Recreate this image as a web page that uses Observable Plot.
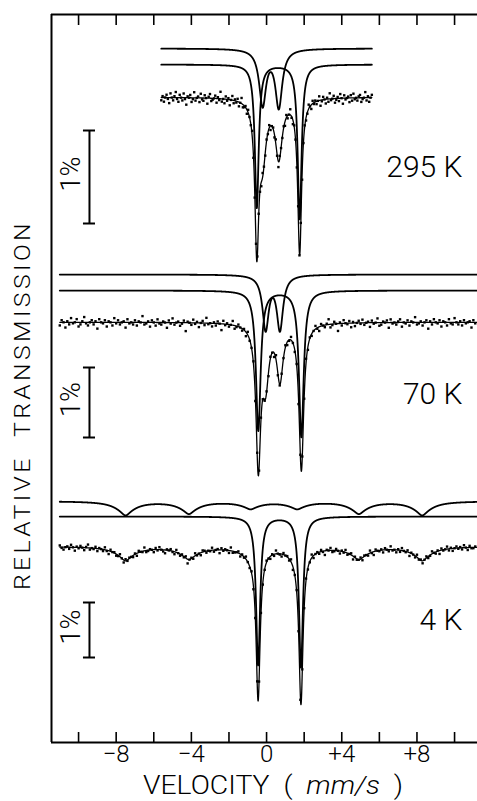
<!DOCTYPE html>
<html><head><meta charset="utf-8">
<script src="https://cdn.jsdelivr.net/npm/d3@7"></script>
<script src="https://cdn.jsdelivr.net/npm/@observablehq/plot@0.6"></script>
<style>
html,body{margin:0;padding:0;background:#fff;overflow:hidden;}
#chart{position:relative;width:477px;height:801px;}
</style></head><body><div id="chart"></div>
<script>
// ---------- data ----------
const temperatures = ["295 K", "70 K", "4 K"];
const velocityTicks = [-10, -8, -6, -4, -2, 0, 2, 4, 6, 8, 10];
const velocityLabels = [-8, -4, 0, 4, 8];

// absorption lines: [centre velocity (mm/s), depth (%), half width (mm/s)]
const lines295A = [[-0.21, 0.60, 0.22], [0.65, 0.62, 0.22]];
const lines295B = [[-0.52, 1.54, 0.125], [1.76, 1.66, 0.125]];
const lines70A = [[-0.05, 0.77, 0.20], [0.71, 0.77, 0.20]];
const lines70B = [[-0.44, 2.00, 0.15], [1.85, 2.09, 0.15]];
// magnetic sextet at 4 K: each line has a sharp core and broad wings
const lines4S = [[-7.50, 0.08, 0.25], [-7.50, 0.17, 0.70],
                 [-4.13, 0.07, 0.25], [-4.13, 0.15, 0.70],
                 [-0.85, 0.04, 0.25], [-0.85, 0.09, 0.70],
                 [1.63, 0.04, 0.25], [1.63, 0.09, 0.70],
                 [4.91, 0.07, 0.25], [4.91, 0.15, 0.70],
                 [8.28, 0.08, 0.25], [8.28, 0.17, 0.70]];
const lines4D = [[-0.45, 2.70, 0.13], [1.83, 2.74, 0.13]];

// measured channels: first velocity, channel step (mm/s)
const channels295 = [-5.6, 0.07];
const channels70 = [-11.0, 0.1];
const channels4 = [-11.0, 0.1];

// scatter of the measured points about the fit (units of 0.015 %)
const noiseUnit = 0.015;
const noise295 = [2,-1,3,0,-2,1,4,-3,0,2,-1,-4,1,3,-2,0,2,-3,1,5,-1,0,-2,3,1,-4,2,0,-1,3,-3,1,2,-2,0,4,-1,-3,2,1,
0,-2,3,-1,1,-5,2,0,3,-2,1,-1,4,0,-3,2,-1,1,-2,3,0,-4,2,1,-1,3,-2,0,1,-3,2,4,-1,0,-2,1,3,-3,0,2,
-1,1,-2,3,0,-1,2,-3,1,4,-2,0,1,-1,3,-2,2,0,-4,1,3,-1,0,2,-3,1,-2,4,0,-1,2,1,-3,0,3,-2,1,-1,2,0,
-3,4,1,-2,0,3,-1,2,-4,1,0,-2,3,1,-1,2,-3,0,4,-2,1,0,-1,3,-2,2,-3,1,0,2,-1,-2,3,1,0,-4,2,-1,3,0,-2];
const noise70 = [3,-2,0,5,-1,2,-4,1,0,-3,4,2,-1,-5,1,3,0,-2,2,-1,6,-3,0,1,-2,4,-1,0,3,-4,1,-2,2,0,-1,5,-3,1,0,2,
-2,3,-1,0,-6,2,1,-1,4,-2,0,3,-3,1,2,-1,0,5,-2,1,-4,2,0,-1,3,1,-2,8,-1,0,2,-3,1,-1,4,0,-2,2,-5,1,
0,3,-1,2,-2,0,6,-3,1,-1,2,0,-4,3,1,-2,0,2,-1,4,-3,1,0,-2,5,-1,2,-3,0,1,-1,3,-2,0,4,-4,2,1,-1,0,
-2,3,1,-3,0,2,-1,5,-2,0,1,-4,3,-1,2,0,-3,1,4,-2,0,2,-1,-5,3,1,-2,0,7,-1,2,-3,0,1,-2,4,-1,3,0,-2,
1,-3,2,0,-1,4,-2,1,0,-4,3,2,-1,0,-2,5,-3,1,0,2,-1,-3,4,0,1,-2,3,-1,0,-5,2,1,-1,3,0,-2,6,-1,2,-3,
0,1,-2,4,-1,0,3,-3,1,2,-4,0,2,-1,3,-2,1,0,-1,5,-2,1];
const noise4 = [-2,1,3,0,-1,2,-3,0,4,-1,1,-2,0,3,-1,-4,2,0,1,-2,3,-1,0,2,-3,1,4,-2,0,-1,2,1,-3,0,3,-2,1,-1,0,2,
-1,3,-2,0,1,-4,2,1,-1,0,3,-2,1,-3,0,2,4,-1,0,-2,1,3,-3,0,2,-1,1,-2,5,0,-1,2,-3,1,0,3,-2,-1,2,0,
1,-3,2,0,-1,4,-2,1,-1,0,3,-4,2,1,0,-2,3,-1,1,-3,0,2,-2,4,1,-1,0,-3,2,1,-2,0,3,-1,2,-4,0,1,3,-2,
0,-1,2,-3,4,0,-2,1,3,-1,0,-2,2,1,-4,3,0,-1,2,-2,1,5,-1,0,-3,2,1,-2,0,3,-1,1,-3,2,0,-2,4,-1,1,0,
-2,3,-1,0,2,-3,1,4,-2,0,1,-1,3,-2,0,2,-4,1,0,3,-1,2,-3,0,1,-2,4,-1,0,2,-3,1,-1,3,0,-2,2,1,-3,0,
2,-1,4,-2,1,0,-3,2,-1,3,0,-2,1,-1,2,-3,0,3,-2,1,1,-1];

// ---------- layout (pixels / styling) ----------
const FONT = "Roboto, 'DejaVu Sans', sans-serif";
const xDomain = [-11.44, 11.22];
const frameY = [14, 742];
const barV = -9.42, barHalf = 0.32, pctTextV = -10.38;
const panels = [
  {label: temperatures[0], comps: [lines295A, lines295B], channels: channels295, noise: noise295,
   range: [-5.6, 5.6], dataBase: 96.7, compBase: [48, 64], pxPerPct: 93, barTop: 130, labelY: 167},
  {label: temperatures[1], comps: [lines70A, lines70B], channels: channels70, noise: noise70,
   range: [-11.0, 11.22], dataBase: 321.7, compBase: [274, 290], pxPerPct: 70, barTop: 367, labelY: 394},
  {label: temperatures[2], comps: [lines4S, lines4D], channels: channels4, noise: noise4,
   range: [-11.0, 11.22], dataBase: 546, compBase: [500.7, 516], pxPerPct: 55, barTop: 602, labelY: 620}
];

function absorption(lines, v) {
  let s = 0;
  for (const [c, d, w] of lines) s += d / (1 + ((v - c) / w) ** 2);
  return s;
}

const curves = [], points = [], bars = [], caps = [];
panels.forEach((p, i) => {
  const all = p.comps.flat();
  const grid = d3.range(p.range[0], p.range[1] + 1e-9, 0.005);
  p.comps.forEach((lines, k) => {
    for (const v of grid) curves.push({id: i + "c" + k, v, y: p.compBase[k] + absorption(lines, v) * p.pxPerPct, w: 1.8});
  });
  for (const v of grid) curves.push({id: i + "fit", v, y: p.dataBase + absorption(all, v) * p.pxPerPct, w: 1.3});
  p.noise.forEach((n, j) => {
    const v = p.channels[0] + j * p.channels[1];
    points.push({v, y: p.dataBase + (absorption(all, v) + n * noiseUnit) * p.pxPerPct});
  });
  bars.push({y1: p.barTop, y2: p.barTop + p.pxPerPct, mid: p.barTop + p.pxPerPct / 2 - 3});
  caps.push(p.barTop, p.barTop + p.pxPerPct);
});

const fmt = d => d > 0 ? "+" + d : d < 0 ? "\u2212" + (-d) : "0";

const chart = Plot.plot({
  width: 477, height: 801,
  marginLeft: 51, marginRight: 0, marginTop: 14, marginBottom: 59,
  x: {domain: xDomain, axis: null},
  y: {domain: frameY, range: frameY, axis: null},
  style: {fontFamily: FONT, fontWeight: 300, background: "white", color: "black"},
  marks: [
    Plot.ruleX([xDomain[0]], {stroke: "black", strokeWidth: 2}),
    Plot.ruleY(frameY, {stroke: "black", strokeWidth: 2}),
    Plot.axisX(velocityTicks, {anchor: "top", tickSize: -10, tickFormat: () => "", label: null, strokeWidth: 1.6}),
    Plot.axisX(velocityTicks, {anchor: "bottom", tickSize: -10, tickFormat: () => "", label: null, strokeWidth: 1.6}),
    Plot.text(velocityLabels, {x: d => d, frameAnchor: "bottom", dy: 19, text: fmt, fontSize: 24, fontWeight: 300, fill: "black"}),
    Plot.line(curves.filter(d => d.w > 1.5), {x: "v", y: "y", z: "id", stroke: "black", strokeWidth: 1.8, clip: true}),
    Plot.line(curves.filter(d => d.w < 1.5), {x: "v", y: "y", z: "id", stroke: "black", strokeWidth: 1.3, clip: true}),
    Plot.dot(points, {x: "v", y: "y", symbol: "square", r: 1.35, fill: "black", clip: true}),
    Plot.ruleX(bars, {x: () => barV, y1: "y1", y2: "y2", stroke: "black", strokeWidth: 2}),
    Plot.ruleY(caps, {y: d => d, x1: () => barV - barHalf, x2: () => barV + barHalf, stroke: "black", strokeWidth: 2}),
    Plot.text(bars, {x: () => pctTextV, y: "mid", text: () => "1%", rotate: -90, fontSize: 27, fontWeight: 300, fill: "black"}),
    Plot.text(panels, {frameAnchor: "right", dx: -15, y: "labelY", text: "label", textAnchor: "end", fontSize: 30, fontWeight: 300, fill: "black"})
  ]
});
document.getElementById("chart").appendChild(chart);

const svg = d3.select(chart);
const xl = svg.append("text")
  .attr("x", 273).attr("y", 794)
  .attr("text-anchor", "middle")
  .attr("font-size", 25).attr("font-family", FONT).attr("font-weight", 300)
  .attr("textLength", 260).attr("lengthAdjust", "spacingAndGlyphs")
  .attr("fill", "black")
  .style("white-space", "pre");
xl.append("tspan").text("VELOCITY  (  ");
xl.append("tspan").attr("font-style", "italic").text("mm/s");
xl.append("tspan").text("  )");

svg.append("text")
  .attr("transform", "translate(30,405) rotate(-90)")
  .attr("text-anchor", "middle")
  .attr("font-size", 22).attr("font-family", FONT).attr("font-weight", 300)
  .attr("letter-spacing", 3)
  .attr("textLength", 370).attr("lengthAdjust", "spacingAndGlyphs")
  .attr("fill", "black")
  .style("white-space", "pre")
  .text("RELATIVE  TRANSMISSION");
</script>
</body></html>
